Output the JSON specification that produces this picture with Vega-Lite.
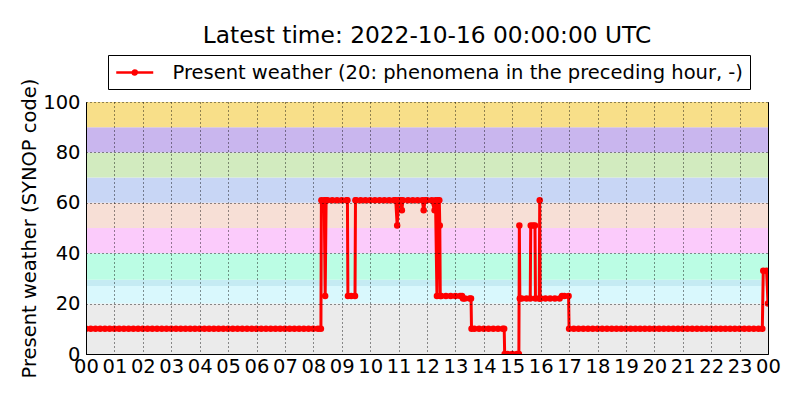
{
  "$schema": "https://vega.github.io/schema/vega-lite/v6.json",
  "width": 682,
  "height": 252,
  "autosize": {"type": "none"},
  "padding": {"left": 86, "top": 102, "right": 32, "bottom": 46},
  "background": "white",
  "title": {"text": "Latest time: 2022-10-16 00:00:00 UTC", "font": "DejaVu Sans", "fontSize": 23.3, "fontWeight": "normal", "color": "black", "anchor": "middle", "offset": 6},
  "config": {
    "font": "DejaVu Sans",
    "view": {"stroke": "black", "strokeWidth": 1},
    "axis": {
      "labelFont": "DejaVu Sans", "labelFontSize": 19.5, "labelColor": "black",
      "titleFont": "DejaVu Sans", "titleFontSize": 19.5, "titleFontWeight": "normal", "titleColor": "black",
      "domainColor": "black", "tickColor": "black", "gridColor": "black", "gridDash": [1, 3], "gridOpacity": 0.85, "gridWidth": 1
    },
    "legend": {
      "orient": "none", "legendX": 22, "legendY": -47,
      "strokeColor": "black", "fillColor": "white", "padding": 7, "cornerRadius": 0,
      "labelFont": "DejaVu Sans", "labelFontSize": 19.5, "labelColor": "black", "labelOffset": 36.5, "labelLimit": 1000,
      "symbolType": "M-1,0H3M1.22,0A0.22,0.22 0 1,1 0.78,0A0.22,0.22 0 1,1 1.22,0", "symbolSize": 342, "symbolStrokeWidth": 2.5, "symbolStrokeColor": "red", "symbolFillColor": "red"
    }
  },
  "datasets": {
    "bands": [
      {"lo": 0, "hi": 20, "color": "#ebebeb"},
      {"lo": 20, "hi": 27, "color": "#d9f8fd"},
      {"lo": 27, "hi": 29.5, "color": "#c5ebf3"},
      {"lo": 29.5, "hi": 40, "color": "#bbfde4"},
      {"lo": 40, "hi": 50, "color": "#fbcbfb"},
      {"lo": 50, "hi": 60, "color": "#f7dfd6"},
      {"lo": 60, "hi": 70, "color": "#c8d6f5"},
      {"lo": 70, "hi": 80, "color": "#d2ebbf"},
      {"lo": 80, "hi": 90, "color": "#c9b6ee"},
      {"lo": 90, "hi": 100, "color": "#f8df89"}
    ],
    "obs": [
      {"t": "2022-10-15T00:00:00Z", "v": 10}, {"t": "2022-10-15T00:10:00Z", "v": 10}, {"t": "2022-10-15T00:20:00Z", "v": 10},
      {"t": "2022-10-15T00:30:00Z", "v": 10}, {"t": "2022-10-15T00:40:00Z", "v": 10}, {"t": "2022-10-15T00:50:00Z", "v": 10},
      {"t": "2022-10-15T01:00:00Z", "v": 10}, {"t": "2022-10-15T01:10:00Z", "v": 10}, {"t": "2022-10-15T01:20:00Z", "v": 10},
      {"t": "2022-10-15T01:30:00Z", "v": 10}, {"t": "2022-10-15T01:40:00Z", "v": 10}, {"t": "2022-10-15T01:50:00Z", "v": 10},
      {"t": "2022-10-15T02:00:00Z", "v": 10}, {"t": "2022-10-15T02:10:00Z", "v": 10}, {"t": "2022-10-15T02:20:00Z", "v": 10},
      {"t": "2022-10-15T02:30:00Z", "v": 10}, {"t": "2022-10-15T02:40:00Z", "v": 10}, {"t": "2022-10-15T02:50:00Z", "v": 10},
      {"t": "2022-10-15T03:00:00Z", "v": 10}, {"t": "2022-10-15T03:10:00Z", "v": 10}, {"t": "2022-10-15T03:20:00Z", "v": 10},
      {"t": "2022-10-15T03:30:00Z", "v": 10}, {"t": "2022-10-15T03:40:00Z", "v": 10}, {"t": "2022-10-15T03:50:00Z", "v": 10},
      {"t": "2022-10-15T04:00:00Z", "v": 10}, {"t": "2022-10-15T04:10:00Z", "v": 10}, {"t": "2022-10-15T04:20:00Z", "v": 10},
      {"t": "2022-10-15T04:30:00Z", "v": 10}, {"t": "2022-10-15T04:40:00Z", "v": 10}, {"t": "2022-10-15T04:50:00Z", "v": 10},
      {"t": "2022-10-15T05:00:00Z", "v": 10}, {"t": "2022-10-15T05:10:00Z", "v": 10}, {"t": "2022-10-15T05:20:00Z", "v": 10},
      {"t": "2022-10-15T05:30:00Z", "v": 10}, {"t": "2022-10-15T05:40:00Z", "v": 10}, {"t": "2022-10-15T05:50:00Z", "v": 10},
      {"t": "2022-10-15T06:00:00Z", "v": 10}, {"t": "2022-10-15T06:10:00Z", "v": 10}, {"t": "2022-10-15T06:20:00Z", "v": 10},
      {"t": "2022-10-15T06:30:00Z", "v": 10}, {"t": "2022-10-15T06:40:00Z", "v": 10}, {"t": "2022-10-15T06:50:00Z", "v": 10},
      {"t": "2022-10-15T07:00:00Z", "v": 10}, {"t": "2022-10-15T07:10:00Z", "v": 10}, {"t": "2022-10-15T07:20:00Z", "v": 10},
      {"t": "2022-10-15T07:30:00Z", "v": 10}, {"t": "2022-10-15T07:40:00Z", "v": 10}, {"t": "2022-10-15T07:50:00Z", "v": 10},
      {"t": "2022-10-15T08:00:00Z", "v": 10}, {"t": "2022-10-15T08:10:00Z", "v": 10}, {"t": "2022-10-15T08:16:00Z", "v": 10},
      {"t": "2022-10-15T08:17:00Z", "v": 61}, {"t": "2022-10-15T08:23:00Z", "v": 61}, {"t": "2022-10-15T08:25:00Z", "v": 23},
      {"t": "2022-10-15T08:27:00Z", "v": 61}, {"t": "2022-10-15T08:30:00Z", "v": 61}, {"t": "2022-10-15T08:40:00Z", "v": 61},
      {"t": "2022-10-15T08:50:00Z", "v": 61}, {"t": "2022-10-15T09:00:00Z", "v": 61}, {"t": "2022-10-15T09:10:00Z", "v": 61},
      {"t": "2022-10-15T09:12:00Z", "v": 61}, {"t": "2022-10-15T09:13:00Z", "v": 23}, {"t": "2022-10-15T09:20:00Z", "v": 23},
      {"t": "2022-10-15T09:28:00Z", "v": 23}, {"t": "2022-10-15T09:29:00Z", "v": 61}, {"t": "2022-10-15T09:30:00Z", "v": 61},
      {"t": "2022-10-15T09:40:00Z", "v": 61}, {"t": "2022-10-15T09:50:00Z", "v": 61}, {"t": "2022-10-15T10:00:00Z", "v": 61},
      {"t": "2022-10-15T10:10:00Z", "v": 61}, {"t": "2022-10-15T10:20:00Z", "v": 61}, {"t": "2022-10-15T10:30:00Z", "v": 61},
      {"t": "2022-10-15T10:40:00Z", "v": 61}, {"t": "2022-10-15T10:50:00Z", "v": 61}, {"t": "2022-10-15T10:54:00Z", "v": 61},
      {"t": "2022-10-15T10:57:00Z", "v": 51}, {"t": "2022-10-15T11:00:00Z", "v": 61}, {"t": "2022-10-15T11:05:00Z", "v": 61},
      {"t": "2022-10-15T11:07:00Z", "v": 57}, {"t": "2022-10-15T11:09:00Z", "v": 61}, {"t": "2022-10-15T11:20:00Z", "v": 61},
      {"t": "2022-10-15T11:30:00Z", "v": 61}, {"t": "2022-10-15T11:40:00Z", "v": 61}, {"t": "2022-10-15T11:50:00Z", "v": 61},
      {"t": "2022-10-15T11:53:00Z", "v": 57}, {"t": "2022-10-15T11:56:00Z", "v": 61}, {"t": "2022-10-15T12:00:00Z", "v": 61},
      {"t": "2022-10-15T12:10:00Z", "v": 61}, {"t": "2022-10-15T12:16:00Z", "v": 57}, {"t": "2022-10-15T12:18:00Z", "v": 61},
      {"t": "2022-10-15T12:21:00Z", "v": 23}, {"t": "2022-10-15T12:23:00Z", "v": 61}, {"t": "2022-10-15T12:26:00Z", "v": 61},
      {"t": "2022-10-15T12:27:00Z", "v": 51}, {"t": "2022-10-15T12:28:00Z", "v": 23}, {"t": "2022-10-15T12:30:00Z", "v": 23},
      {"t": "2022-10-15T12:40:00Z", "v": 23}, {"t": "2022-10-15T12:50:00Z", "v": 23}, {"t": "2022-10-15T13:00:00Z", "v": 23},
      {"t": "2022-10-15T13:10:00Z", "v": 23}, {"t": "2022-10-15T13:14:00Z", "v": 23}, {"t": "2022-10-15T13:16:00Z", "v": 22},
      {"t": "2022-10-15T13:20:00Z", "v": 22}, {"t": "2022-10-15T13:30:00Z", "v": 22}, {"t": "2022-10-15T13:33:00Z", "v": 22},
      {"t": "2022-10-15T13:34:00Z", "v": 10}, {"t": "2022-10-15T13:40:00Z", "v": 10}, {"t": "2022-10-15T13:50:00Z", "v": 10},
      {"t": "2022-10-15T14:00:00Z", "v": 10}, {"t": "2022-10-15T14:10:00Z", "v": 10}, {"t": "2022-10-15T14:20:00Z", "v": 10},
      {"t": "2022-10-15T14:30:00Z", "v": 10}, {"t": "2022-10-15T14:40:00Z", "v": 10}, {"t": "2022-10-15T14:43:00Z", "v": 10},
      {"t": "2022-10-15T14:44:00Z", "v": 0}, {"t": "2022-10-15T14:50:00Z", "v": 0}, {"t": "2022-10-15T15:00:00Z", "v": 0},
      {"t": "2022-10-15T15:10:00Z", "v": 0}, {"t": "2022-10-15T15:14:00Z", "v": 0}, {"t": "2022-10-15T15:15:00Z", "v": 51},
      {"t": "2022-10-15T15:16:00Z", "v": 22}, {"t": "2022-10-15T15:20:00Z", "v": 22}, {"t": "2022-10-15T15:30:00Z", "v": 22},
      {"t": "2022-10-15T15:38:00Z", "v": 22}, {"t": "2022-10-15T15:39:00Z", "v": 51}, {"t": "2022-10-15T15:44:00Z", "v": 51},
      {"t": "2022-10-15T15:48:00Z", "v": 51}, {"t": "2022-10-15T15:49:00Z", "v": 22}, {"t": "2022-10-15T15:57:00Z", "v": 22},
      {"t": "2022-10-15T15:58:00Z", "v": 61}, {"t": "2022-10-15T15:59:00Z", "v": 22}, {"t": "2022-10-15T16:00:00Z", "v": 22},
      {"t": "2022-10-15T16:10:00Z", "v": 22}, {"t": "2022-10-15T16:20:00Z", "v": 22}, {"t": "2022-10-15T16:30:00Z", "v": 22},
      {"t": "2022-10-15T16:40:00Z", "v": 22}, {"t": "2022-10-15T16:45:00Z", "v": 23}, {"t": "2022-10-15T16:50:00Z", "v": 23},
      {"t": "2022-10-15T16:59:00Z", "v": 23}, {"t": "2022-10-15T17:00:00Z", "v": 10}, {"t": "2022-10-15T17:10:00Z", "v": 10},
      {"t": "2022-10-15T17:20:00Z", "v": 10}, {"t": "2022-10-15T17:30:00Z", "v": 10}, {"t": "2022-10-15T17:40:00Z", "v": 10},
      {"t": "2022-10-15T17:50:00Z", "v": 10}, {"t": "2022-10-15T18:00:00Z", "v": 10}, {"t": "2022-10-15T18:10:00Z", "v": 10},
      {"t": "2022-10-15T18:20:00Z", "v": 10}, {"t": "2022-10-15T18:30:00Z", "v": 10}, {"t": "2022-10-15T18:40:00Z", "v": 10},
      {"t": "2022-10-15T18:50:00Z", "v": 10}, {"t": "2022-10-15T19:00:00Z", "v": 10}, {"t": "2022-10-15T19:10:00Z", "v": 10},
      {"t": "2022-10-15T19:20:00Z", "v": 10}, {"t": "2022-10-15T19:30:00Z", "v": 10}, {"t": "2022-10-15T19:40:00Z", "v": 10},
      {"t": "2022-10-15T19:50:00Z", "v": 10}, {"t": "2022-10-15T20:00:00Z", "v": 10}, {"t": "2022-10-15T20:10:00Z", "v": 10},
      {"t": "2022-10-15T20:20:00Z", "v": 10}, {"t": "2022-10-15T20:30:00Z", "v": 10}, {"t": "2022-10-15T20:40:00Z", "v": 10},
      {"t": "2022-10-15T20:50:00Z", "v": 10}, {"t": "2022-10-15T21:00:00Z", "v": 10}, {"t": "2022-10-15T21:10:00Z", "v": 10},
      {"t": "2022-10-15T21:20:00Z", "v": 10}, {"t": "2022-10-15T21:30:00Z", "v": 10}, {"t": "2022-10-15T21:40:00Z", "v": 10},
      {"t": "2022-10-15T21:50:00Z", "v": 10}, {"t": "2022-10-15T22:00:00Z", "v": 10}, {"t": "2022-10-15T22:10:00Z", "v": 10},
      {"t": "2022-10-15T22:20:00Z", "v": 10}, {"t": "2022-10-15T22:30:00Z", "v": 10}, {"t": "2022-10-15T22:40:00Z", "v": 10},
      {"t": "2022-10-15T22:50:00Z", "v": 10}, {"t": "2022-10-15T23:00:00Z", "v": 10}, {"t": "2022-10-15T23:10:00Z", "v": 10},
      {"t": "2022-10-15T23:20:00Z", "v": 10}, {"t": "2022-10-15T23:30:00Z", "v": 10}, {"t": "2022-10-15T23:40:00Z", "v": 10},
      {"t": "2022-10-15T23:48:00Z", "v": 10}, {"t": "2022-10-15T23:50:00Z", "v": 33}, {"t": "2022-10-15T23:57:00Z", "v": 33},
      {"t": "2022-10-16T00:00:00Z", "v": 20}
    ]
  },
  "layer": [
    {
      "data": {"name": "bands"},
      "mark": {"type": "rect"},
      "encoding": {
        "y": {"field": "lo", "type": "quantitative", "scale": {"domain": [0, 100], "nice": false}, "title": "Present weather (SYNOP code)",
              "axis": {"values": [0, 20, 40, 60, 80, 100], "grid": true, "ticks": false, "labelPadding": 6, "titlePadding": 3, "zindex": 1, "gridDash": [1, 3], "gridColor": "black", "gridOpacity": 0.85}},
        "y2": {"field": "hi"},
        "fill": {"field": "color", "type": "nominal", "scale": null}
      }
    },
    {
      "data": {"name": "obs"},
      "mark": {"type": "line", "strokeWidth": 3, "clip": true, "point": {"filled": true, "size": 42, "clip": true}},
      "encoding": {
        "x": {"field": "t", "type": "temporal", "scale": {"type": "utc", "domain": [1665792000000, 1665878400000], "nice": false}, "title": null,
              "axis": {"format": "%H", "tickCount": 24, "labelOverlap": false, "labelFlush": false, "labelBound": false, "grid": true, "ticks": false, "labelPadding": 3, "zindex": 1, "gridDash": [1, 3], "gridColor": "black", "gridOpacity": 0.85}},
        "y": {"field": "v", "type": "quantitative", "title": "Present weather (SYNOP code)",
              "axis": {"values": [0, 20, 40, 60, 80, 100], "grid": true, "ticks": false, "labelPadding": 6, "titlePadding": 3, "zindex": 1, "gridDash": [1, 3], "gridColor": "black", "gridOpacity": 0.85}},
        "color": {"datum": "Present weather (20: phenomena in the preceding hour, -)", "type": "nominal", "scale": {"range": ["red"]}, "legend": {"title": null}}
      }
    }
  ]
}
